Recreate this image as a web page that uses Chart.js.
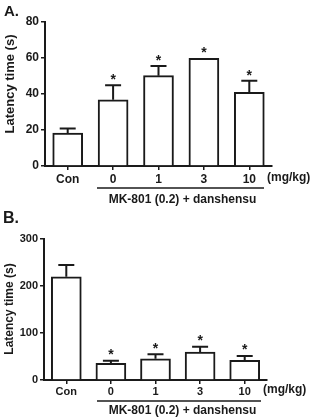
<!DOCTYPE html>
<html>
<head>
<meta charset="utf-8">
<script src="https://cdn.jsdelivr.net/npm/chart.js@4.4.1/dist/chart.umd.min.js"></script>
<style>
  html, body { margin: 0; padding: 0; background: #fff; }
  body { width: 314px; height: 419px; position: relative; overflow: hidden; }
  .panel { position: absolute; left: 0; width: 314px; }
  #wrapA { top: 0; height: 210px; }
  #wrapB { top: 210px; height: 209px; }
</style>
</head>
<body>
<div class="panel" id="wrapA"><canvas id="chartA" width="314" height="210"></canvas></div>
<div class="panel" id="wrapB"><canvas id="chartB" width="314" height="209"></canvas></div>
<script>
// ---- data ----
const categories = ['Con', '0', '1', '3', '10'];
const latencyA = [18.3, 36.8, 50.2, 59.8, 40.9];
const errorA   = [2.6, 8.0, 5.4, 0.0, 6.5];
const starsA   = [false, true, true, true, true];
const latencyB = [219, 35.4, 45.2, 59.4, 41.8];
const errorB   = [25, 5.6, 9.4, 11.3, 9.2];
const starsB   = [false, true, true, true, true];
const yTicksA  = [0, 20, 40, 60, 80];
const yTicksB  = [0, 100, 200, 300];
const yTitle   = 'Latency time (s)';
const unitLabel = '(mg/kg)';
const groupLabel = 'MK-801 (0.2) + danshensu';

const FONT = "'Liberation Sans', Arial, sans-serif";
const INK = '#1a1a1a';

function makeChart(id, cfg) {
  const extras = {
    id: 'extras_' + id,
    afterDatasetsDraw(chart) {
      const ctx = chart.ctx;
      const meta = chart.getDatasetMeta(0);
      const y = chart.scales.y;
      ctx.save();
      ctx.strokeStyle = INK;
      ctx.fillStyle = INK;
      ctx.lineWidth = 2;
      meta.data.forEach((bar, i) => {
        const v = cfg.values[i];
        const e = cfg.errors[i];
        const x = bar.x;
        const yTop = y.getPixelForValue(v);
        const yErr = y.getPixelForValue(v + e);
        if (e > 0) {
          ctx.beginPath();
          ctx.moveTo(x, yTop);
          ctx.lineTo(x, yErr);
          ctx.moveTo(x - 8, yErr);
          ctx.lineTo(x + 8, yErr);
          ctx.stroke();
        }
        if (cfg.stars[i]) {
          ctx.font = 'bold 14px ' + FONT;
          ctx.textAlign = 'center';
          ctx.textBaseline = 'alphabetic';
          const cy = Math.min(yTop, yErr) - cfg.starGap;
          ctx.fillText('*', x, cy + 8);
        }
      });
      // group underline
      ctx.lineWidth = 1.5;
      ctx.beginPath();
      ctx.moveTo(cfg.lineX0, cfg.lineY);
      ctx.lineTo(cfg.lineX1, cfg.lineY);
      ctx.stroke();
      // texts
      ctx.textBaseline = 'middle';
      ctx.font = 'bold 12px ' + FONT;
      ctx.textAlign = 'center';
      ctx.fillText(groupLabel, cfg.groupX, cfg.groupY);
      ctx.font = 'bold ' + cfg.unitSize + 'px ' + FONT;
      ctx.textAlign = 'left';
      ctx.fillText(unitLabel, cfg.unitX, cfg.unitY);
      ctx.font = 'bold ' + cfg.letterSize + 'px ' + FONT;
      ctx.fillText(cfg.letter, cfg.letterX, cfg.letterY);
      // y title
      ctx.save();
      ctx.translate(cfg.titleX, cfg.titleY);
      ctx.rotate(-Math.PI / 2);
      ctx.textAlign = 'center';
      ctx.font = 'bold ' + cfg.titleSize + 'px ' + FONT;
      ctx.fillText(yTitle, 0, 0);
      ctx.restore();
      ctx.restore();
    }
  };

  return new Chart(document.getElementById(id), {
    type: 'bar',
    data: {
      labels: categories,
      datasets: [{
        data: cfg.values,
        backgroundColor: '#ffffff',
        borderColor: INK,
        borderWidth: 2,
        barThickness: 30
      }]
    },
    options: {
      responsive: false,
      devicePixelRatio: 1,
      animation: false,
      layout: { padding: cfg.padding },
      plugins: { legend: { display: false }, tooltip: { enabled: false }, title: { display: false } },
      scales: {
        x: {
          grid: { display: true, drawOnChartArea: false, drawTicks: true, tickLength: 4, offset: false, color: INK, lineWidth: 1.5 },
          border: { display: true, color: INK, width: 2 },
          ticks: { color: INK, padding: cfg.xTickPad, font: { family: FONT, weight: 'bold', size: cfg.tickSize }, maxRotation: 0, autoSkip: false },
          afterFit(scale) { scale.height = cfg.xHeight; }
        },
        y: {
          min: 0,
          max: cfg.yTicks[cfg.yTicks.length - 1],
          afterBuildTicks(scale) { scale.ticks = cfg.yTicks.map(v => ({ value: v })); },
          grid: { display: true, drawOnChartArea: false, drawTicks: true, tickLength: 4, color: INK, lineWidth: 1.5 },
          border: { display: true, color: INK, width: 2 },
          ticks: { color: INK, padding: 2, font: { family: FONT, weight: 'bold', size: cfg.tickSize } },
          afterFit(scale) { scale.width = cfg.yWidth; }
        }
      }
    },
    plugins: [extras]
  });
}

makeChart('chartA', {
  values: latencyA, errors: errorA, stars: starsA, yTicks: yTicksA,
  padding: { top: 22, right: 42, bottom: 0, left: 0 },
  yWidth: 45, xHeight: 44, tickSize: 12, xTickPad: 2, starGap: 9,
  lineX0: 97, lineX1: 264, lineY: 188,
  groupX: 182.5, groupY: 200,
  unitX: 267, unitY: 178, unitSize: 12,
  letter: 'A.', letterX: 4, letterY: 12, letterSize: 15,
  titleX: 10.5, titleY: 84, titleSize: 13
});

makeChart('chartB', {
  values: latencyB, errors: errorB, stars: starsB, yTicks: yTicksB,
  padding: { top: 28.7, right: 47, bottom: 0, left: 0 },
  yWidth: 44, xHeight: 39, tickSize: 11, xTickPad: 1, starGap: 9.5,
  lineX0: 97, lineX1: 261, lineY: 191,
  groupX: 182.5, groupY: 201,
  unitX: 263, unitY: 180, unitSize: 12,
  letter: 'B.', letterX: 3, letterY: 9, letterSize: 16,
  titleX: 10, titleY: 99, titleSize: 12
});
</script>
</body>
</html>
